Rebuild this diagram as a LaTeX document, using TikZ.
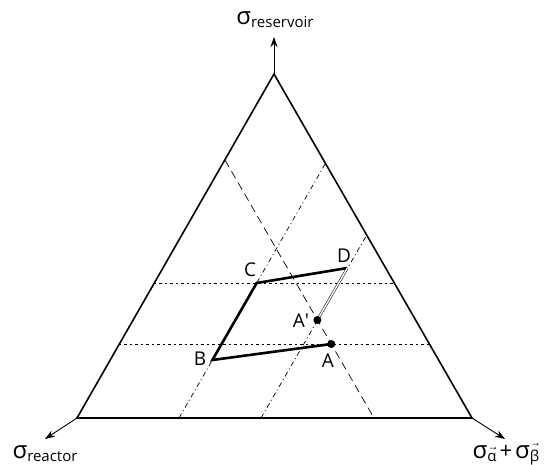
\documentclass[tikz,border=0pt]{standalone}
\usepackage{fontspec}
\setmainfont{Open Sans}
\usetikzlibrary{arrows.meta}
\newcommand\sig{{\fontsize{24}{26}\selectfont σ}}
\newcommand\subtxt[1]{\raisebox{-3pt}{\fontsize{15}{18}\selectfont #1}}
\newcommand\vsub[2]{$\vec{\hbox{\raisebox{0pt}[#2]{#1}}}$}
\begin{document}
\begin{tikzpicture}[x=1pt,y=-1pt,
  tri/.style={line width=1.6pt},
  aux/.style={line width=0.7pt},
  dotline/.style={aux,dash pattern=on 2.5pt off 3pt},
  dashline/.style={aux,dash pattern=on 8pt off 5pt},
  dashdotline/.style={aux,dash pattern=on 5pt off 3pt on 1pt off 3pt},
  cyc/.style={line width=2.6pt,line join=miter},
  dbl/.style={double,line width=0.5pt,double distance=1.4pt},
  axis/.style={line width=0.9pt,-{Stealth[length=10pt,width=7pt]}},
  dot/.style={circle,fill,inner sep=0pt,minimum size=8pt},
  lbl/.style={font=\fontsize{19}{22}\selectfont,inner sep=0pt},
  axlbl/.style={inner sep=0pt,anchor=base}
]
\useasboundingbox (0,0) rectangle (554,464);
% triangle vertices
\coordinate (L) at (77,418);
\coordinate (R) at (472,418);
\coordinate (T) at (274,74);
% auxiliary line ends
\coordinate (h1l) at (153.7,283);
\coordinate (h1r) at (394.3,283);
\coordinate (h2l) at (118.6,344);
\coordinate (h2r) at (429.4,344);
\coordinate (ds1) at (225,160);
\coordinate (ds2) at (374,418);
\coordinate (dd1a) at (179,418);
\coordinate (dd1b) at (325.4,163.5);
\coordinate (dd2a) at (261,418);
\coordinate (dd2b) at (366.9,234.7);
% points
\coordinate (A) at (331.3,344);
\coordinate (Ap) at (317.4,320);
\coordinate (B) at (212.4,360);
\coordinate (C) at (256.7,283);
\coordinate (D) at (347.3,268);
% axis ends
\coordinate (Tu) at (274,37);
\coordinate (Lu) at (45,439);
\coordinate (Ru) at (505,439);

% auxiliary lines
\draw[dotline] (h1l) -- (h1r);
\draw[dotline] (h2l) -- (h2r);
\draw[dashline] (ds1) -- (ds2);
\draw[dashdotline] (dd1a) -- (dd1b);
\draw[dashdotline] (dd2a) -- (dd2b);

% triangle
\draw[tri] (L) -- (R) -- (T) -- cycle;

% axes
\draw[axis] (T) -- (Tu);
\draw[axis] (L) -- (Lu);
\draw[axis] (R) -- (Ru);

% path
\draw[cyc] (A) -- (B) -- (C) -- (D);
\draw[dbl] (D) -- (Ap);
\node[dot] (nA) at (A) {};
\node[dot] (nAp) at (Ap) {};

% labels
\node[lbl] (lA) at (328,361) {A};
\node[lbl] (lAp) at (301,321) {A′};
\node[lbl] (lB) at (200,359) {B};
\node[lbl] (lC) at (250,270) {C};
\node[lbl] (lD) at (344,256) {D};

\node[axlbl] (lres) at (275,24) {\sig\subtxt{reservoir}};
\node[axlbl] (lrea) at (45,458) {\sig\subtxt{reactor}};
\node[axlbl] (lab) at (506,458) {\sig\subtxt{\vsub{α}{10pt}}\hspace{3pt}{\fontsize{22}{24}\selectfont +}\hspace{3pt}\sig\subtxt{\vsub{β}{13.5pt}}};
\end{tikzpicture}
\end{document}
